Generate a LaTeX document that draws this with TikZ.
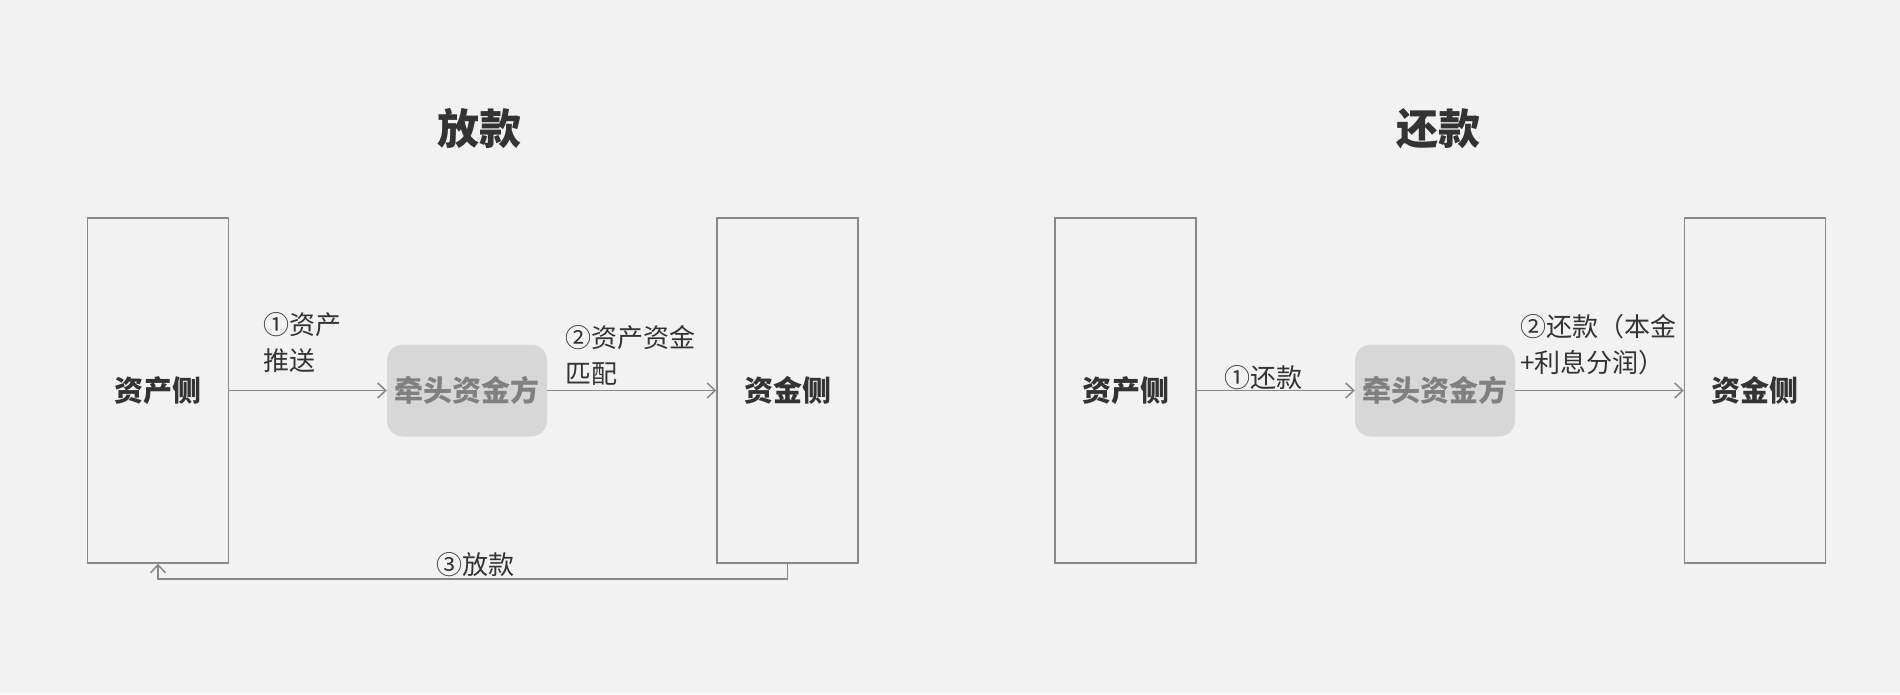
\documentclass[tikz,border=0pt]{standalone}
\usepackage{fontspec}
\setmainfont{Noto Sans CJK SC}
\usetikzlibrary{arrows.meta}
\definecolor{bg}{HTML}{F2F2F2}
\definecolor{edge}{HTML}{888888}
\definecolor{ink}{HTML}{333333}
\definecolor{midfill}{HTML}{D7D7D7}
\definecolor{midtext}{HTML}{808080}
\tikzset{
  sidebox/.style={draw=edge, line width=1.5pt, minimum width=141pt, minimum height=345pt, inner sep=0pt, text=ink, font=\fontsize{29}{35}\selectfont\bfseries},
  midbox/.style={fill=midfill, rounded corners=16pt, minimum width=160pt, minimum height=92pt, inner sep=0pt, text=midtext, font=\fontsize{29}{35}\selectfont\bfseries},
  titletext/.style={text=ink, inner sep=0pt, font=\fontsize{42}{50}\selectfont\bfseries},
  lbl/.style={text=ink, inner sep=0pt, anchor=north west, align=left, font=\fontsize{26}{36}\selectfont},
  conn/.style={draw=edge, line width=1.5pt, -{Straight Barb[length=8pt,width=15pt,line width=1.5pt]}},
}
\begin{document}
\begin{tikzpicture}[x=1pt,y=-1pt]
\fill[bg] (0,0) rectangle (1900,694);
\useasboundingbox (0,0) rectangle (1900,694);
% left diagram
\node[titletext] (t1) at (479,129) {放款};
\node[sidebox] (a1) at (158,390.5) {资产侧};
\node[midbox] (m1) at (467,390.5) {牵头资金方};
\node[sidebox] (f1) at (787.5,390.5) {资金侧};
\draw[conn] (a1.east) -- (m1.west);
\draw[conn] (m1.east) -- (f1.west);
\draw[conn] (f1.south) -- ++(0,15) -| (a1.south);
\node[lbl] (l11) at (263,312) {①资产\\推送};
\node[lbl] (l12) at (565,325) {②资产资金\\匹配};
\node[lbl] (l13) at (436,552) {③放款};
% right diagram
\node[titletext] (t2) at (1438,129) {还款};
\node[sidebox] (a2) at (1125.5,390.5) {资产侧};
\node[midbox] (m2) at (1435,390.5) {牵头资金方};
\node[sidebox] (f2) at (1755,390.5) {资金侧};
\draw[conn] (a2.east) -- (m2.west);
\draw[conn] (m2.east) -- (f2.west);
\node[lbl] (l21) at (1224,365) {①还款};
\node[lbl] (l22) at (1520,314) {②还款（本金\\+利息分润）};
\end{tikzpicture}
\end{document}
